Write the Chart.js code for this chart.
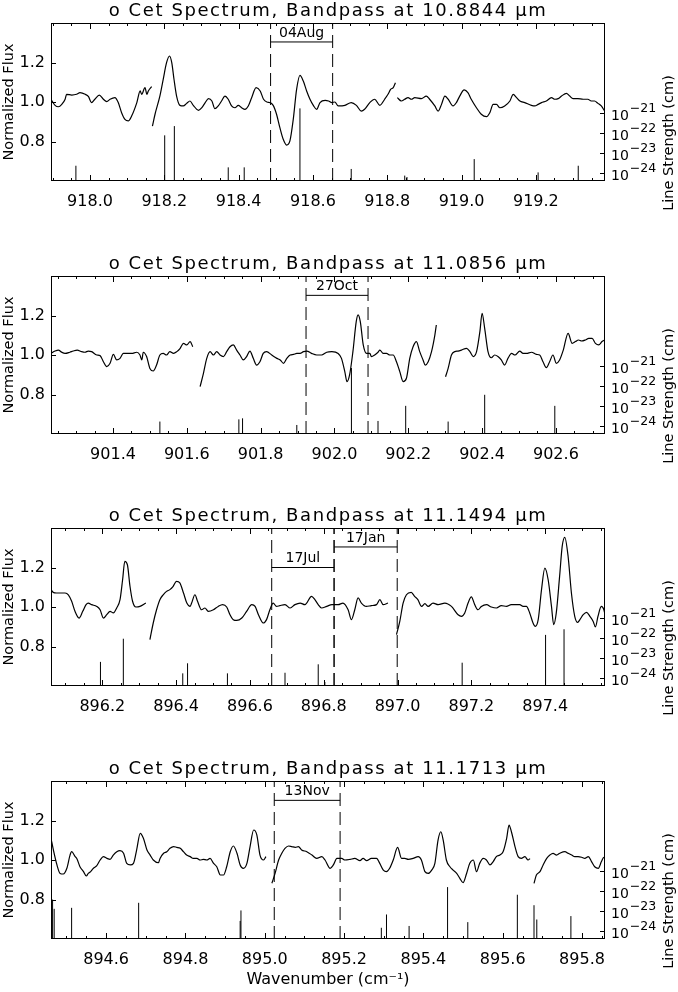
<!DOCTYPE html>
<html lang="en">
<head>
<meta charset="UTF-8">
<title>o Cet spectra</title>
<script src="https://cdn.jsdelivr.net/npm/chart.js"></script>
<style>
  body { margin: 0; background: #fff; }
  .panel { position: absolute; left: 0; }
</style>
</head>
<body>
<canvas id="c0" class="panel" style="top:0px" width="678" height="252"></canvas>
<canvas id="c1" class="panel" style="top:253px" width="678" height="252"></canvas>
<canvas id="c2" class="panel" style="top:505px" width="678" height="252"></canvas>
<canvas id="c3" class="panel" style="top:758px" width="678" height="234"></canvas>
<script>
// ---- data ----
const titles = [
  'o Cet Spectrum, Bandpass at 10.8844 \u03bcm',
  'o Cet Spectrum, Bandpass at 11.0856 \u03bcm',
  'o Cet Spectrum, Bandpass at 11.1494 \u03bcm',
  'o Cet Spectrum, Bandpass at 11.1713 \u03bcm'
];

// panel 1 (10.8844 um)
const p1Range = [917.895, 919.386];
const p1Ticks = [918.0, 918.2, 918.4, 918.6, 918.8, 919.0, 919.2];
const p1Wave = [917.895,917.906,917.915,917.924,917.933,917.937,917.951,917.964,917.973,917.987,917.996,918.004,918.013,918.025,918.036,918.045,918.054,918.067,918.076,918.085,918.094,918.103,918.112,918.126,918.135,918.139,918.148,918.153,918.157,918.166,
  918.167,
  918.168,918.175,918.188,918.197,918.206,918.214,918.220,918.226,918.233,918.242,918.251,918.260,918.269,918.278,918.292,918.301,918.310,918.319,918.328,918.336,918.345,918.354,918.363,918.372,918.381,918.390,918.399,918.408,918.417,918.426,918.435,918.447,918.458,918.467,918.476,918.485,918.493,918.502,918.511,918.520,918.529,918.538,918.547,918.556,918.565,918.574,918.583,918.592,918.601,918.610,918.619,918.633,918.642,918.651,918.659,918.668,918.686,918.703,918.717,918.730,918.739,918.753,918.766,918.780,918.793,918.802,918.809,918.816,918.822,
  918.825,
  918.827,918.838,918.847,918.856,918.865,918.874,918.892,918.905,918.914,918.928,918.937,918.946,918.955,918.964,918.977,918.986,918.995,919.007,919.017,919.026,919.040,919.053,919.067,919.076,919.085,919.094,919.103,919.116,919.130,919.139,919.148,919.157,919.170,919.188,919.197,919.206,919.215,919.228,919.242,919.251,919.260,919.269,919.282,919.291,919.300,919.313,919.327,919.340,919.349,919.358,919.367,919.376,919.385];
const p1Flux = [1.014,0.983,0.976,0.988,1.014,1.039,1.035,1.039,1.047,1.039,1.027,0.997,1.014,1.035,1.014,1.002,1.014,1.022,0.997,0.946,0.912,0.904,0.929,0.997,1.056,1.039,1.073,1.039,1.056,1.078,
  null,
  0.878,0.938,1.030,1.115,1.199,1.233,1.199,1.115,1.030,0.983,0.980,0.993,1.005,0.983,0.958,0.971,0.997,1.017,1.005,0.966,0.980,1.005,1.030,1.014,0.980,0.971,0.983,0.971,0.963,0.980,1.022,1.073,1.056,1.014,1.000,0.997,0.983,0.938,0.870,0.811,0.782,0.803,0.912,1.064,1.135,1.106,1.056,1.014,0.983,0.963,0.997,1.008,1.005,0.997,1.000,0.980,0.983,0.997,0.983,0.954,0.963,0.997,1.014,0.983,1.014,1.039,1.064,1.073,1.098,
  null,
  1.022,1.005,1.014,1.022,1.014,1.022,1.017,1.030,1.014,0.980,0.954,0.988,1.030,1.014,0.980,0.997,1.030,1.061,1.047,1.014,0.971,0.938,0.926,0.946,0.988,0.988,0.971,0.980,1.005,1.039,1.022,1.005,0.997,0.983,0.980,0.988,0.997,1.005,1.022,1.014,1.017,1.030,1.044,1.030,1.017,1.017,1.014,1.014,1.005,1.005,0.993,0.980,0.954];
const p1LineWave = [917.962,918.201,918.227,918.372,918.415,918.565,918.703,918.847,918.853,919.034,919.206,919.314];
const p1LineLog = [-23.64,-22.13,-21.67,-23.72,-23.72,-20.79,-23.80,-24.13,-24.20,-23.31,-23.97,-23.64];
const p1Dates = ['04Aug'];
const p1Windows = [[918.486, 918.653]];

// panel 2 (11.0856 um)
const p2Range = [901.232, 902.733];
const p2Ticks = [901.4, 901.6, 901.8, 902.0, 902.2, 902.4, 902.6];
const p2Wave = [901.232,901.243,901.252,901.261,901.270,901.283,901.292,901.303,901.315,901.324,901.333,901.342,901.356,901.365,901.374,901.383,901.392,901.401,901.410,901.419,901.428,901.437,901.451,901.464,901.473,901.478,901.482,901.491,901.500,901.509,901.518,901.527,901.536,901.545,901.554,901.564,901.573,901.582,901.591,901.600,901.609,901.616,
  901.626,
  901.636,901.645,901.654,901.663,901.672,901.681,901.690,901.699,901.708,901.717,901.726,901.735,901.744,901.753,901.762,901.771,901.780,901.789,901.798,901.807,901.816,901.830,901.844,901.853,901.862,901.871,901.880,901.889,901.898,901.907,901.916,901.925,901.938,901.952,901.965,901.979,901.993,
  902.010,902.019,902.028,902.034,902.041,902.050,902.059,902.064,902.070,902.078,902.087,902.096,902.100,902.109,902.118,902.123,902.132,902.141,902.150,902.159,902.168,902.177,902.186,902.195,902.204,902.213,902.222,902.231,902.240,902.246,902.254,902.263,902.272,902.276,
  902.290,
  902.301,902.308,902.317,902.326,902.335,902.344,902.358,902.367,902.376,902.385,902.394,902.400,902.407,902.416,902.425,902.434,902.443,902.452,902.461,902.470,902.480,902.489,902.502,902.511,902.520,902.534,902.547,902.556,902.565,902.574,902.583,902.592,902.601,902.610,902.620,902.633,902.644,902.653,902.661,902.670,902.680,902.689,902.698,902.707,902.716,902.725,902.732];
const p2Flux = [1.008,1.020,1.025,1.014,1.008,1.014,1.020,1.025,1.017,1.014,1.020,1.017,1.000,0.997,0.966,0.941,0.958,1.003,0.975,0.983,1.008,1.008,1.008,1.014,1.000,0.975,1.014,0.992,0.932,0.919,0.949,1.000,1.008,1.000,1.017,1.008,1.017,1.034,1.059,1.051,1.068,1.042,
  null,
  0.840,0.907,0.983,1.017,1.000,1.017,1.000,0.992,1.017,1.042,1.051,1.025,1.000,0.975,0.992,1.020,0.983,0.949,0.966,1.008,1.017,1.000,0.983,0.975,0.958,0.983,1.000,1.003,1.008,1.008,1.017,1.020,1.008,1.000,1.000,1.014,1.017,
  1.008,0.983,0.916,0.865,0.899,1.017,1.169,1.203,1.169,1.051,1.008,1.008,0.992,1.000,1.014,1.025,1.008,1.008,1.000,1.000,0.966,0.916,0.865,0.882,0.983,1.042,1.068,1.017,0.975,0.949,0.966,1.017,1.101,1.152,
  null,
  0.890,0.932,1.000,1.017,1.020,1.025,1.034,1.017,0.992,1.017,1.118,1.211,1.135,1.017,0.986,1.000,0.992,0.975,0.949,0.983,1.008,1.000,1.020,1.008,1.008,1.014,1.003,1.000,0.966,0.936,0.966,1.000,0.958,0.975,1.025,1.110,1.059,1.068,1.076,1.071,1.076,1.084,1.084,1.059,1.051,1.068,1.076];
const p2LineWave = [901.527,901.741,901.751,901.898,902.046,902.118,902.193,902.308,902.407,902.597];
const p2LineLog = [-23.78,-23.67,-23.62,-23.95,-21.12,-23.75,-23.00,-23.78,-22.45,-23.00];
const p2Dates = ['27Oct'];
const p2Windows = [[901.923, 902.091]];

// panel 3 (11.1494 um)
const p3Range = [896.061, 897.562];
const p3Ticks = [896.2, 896.4, 896.6, 896.8, 897.0, 897.2, 897.4];
const p3Wave = [896.061,896.067,896.076,896.085,896.099,896.108,896.117,896.126,896.137,896.147,896.156,896.162,896.171,896.185,896.194,896.203,896.212,896.221,896.230,896.239,896.248,896.255,896.261,896.268,896.275,896.282,896.291,896.302,896.318,
  896.323,
  896.329,896.338,896.347,896.356,896.365,896.374,896.383,896.392,896.401,896.410,896.420,896.429,896.438,896.442,896.451,896.458,896.469,896.478,896.487,896.501,896.514,896.526,896.537,896.546,896.555,896.564,896.578,896.591,896.605,896.614,896.623,896.636,896.645,896.654,896.663,896.672,896.681,896.695,896.709,896.722,896.736,896.749,896.767,896.776,896.785,896.794,896.808,896.822,896.839,896.852,896.866,896.875,896.884,896.893,896.902,896.915,896.929,896.943,896.952,896.961,896.974,
  896.985,
  896.997,897.006,897.015,897.024,897.037,897.046,897.055,897.065,897.074,897.083,897.096,897.110,897.128,897.146,897.164,897.173,897.182,897.191,897.200,897.209,897.218,897.227,897.241,897.254,897.268,897.281,897.295,897.308,897.322,897.331,897.340,897.349,897.358,897.367,897.373,897.381,897.390,897.399,897.408,897.417,897.423,897.430,897.439,897.446,897.453,897.462,897.471,897.480,897.488,897.494,897.503,897.512,897.521,897.530,897.536,897.543,897.552,897.559,897.564];
const p3Flux = [1.088,1.074,1.071,1.071,1.071,1.062,1.029,0.978,0.944,0.978,1.012,1.020,1.012,1.003,0.986,0.944,0.961,0.978,0.970,0.995,1.037,1.138,1.231,1.214,1.105,1.029,1.000,1.003,1.020,
  null,
  0.835,0.919,0.986,1.037,1.062,1.079,1.088,1.105,1.130,1.122,1.071,1.020,1.003,1.020,1.062,1.029,0.986,0.995,0.978,0.986,1.003,1.012,1.000,0.961,0.936,0.932,0.944,0.978,1.012,1.003,0.961,0.919,0.936,0.986,1.020,1.003,1.007,1.012,0.995,1.012,1.020,1.012,1.054,1.037,1.012,0.995,1.003,1.012,1.012,1.020,0.986,0.936,0.986,1.046,1.020,1.003,1.007,1.012,1.037,1.012,1.020,
  null,
  0.860,0.927,1.020,1.062,1.074,1.054,1.037,1.003,1.017,1.003,1.020,1.012,1.020,1.003,0.961,0.953,0.970,1.020,1.051,1.012,0.986,1.003,1.012,1.000,0.995,1.007,1.003,1.012,1.012,1.012,1.003,1.003,0.970,0.919,0.902,0.936,1.088,1.197,1.138,1.003,0.911,0.970,1.155,1.307,1.353,1.257,1.071,0.953,0.922,0.936,0.961,0.973,0.953,0.927,0.899,0.953,1.003,0.986,0.944];
const p3LineWave = [896.195,896.257,896.418,896.431,896.539,896.695,896.785,896.803,897.175,897.401,897.451];
const p3LineLog = [-23.20,-22.05,-23.77,-23.27,-23.77,-23.74,-23.32,-24.20,-23.24,-21.86,-21.58];
const p3Dates = ['17Jul', '17Jan'];
const p3Windows = [[896.659, 896.828], [896.828, 896.999]];

// panel 4 (11.1713 um)
const p4Range = [894.461, 895.858];
const p4Ticks = [894.6, 894.8, 895.0, 895.2, 895.4, 895.6, 895.8];
const p4Wave = [894.461,894.467,894.476,894.484,894.492,894.501,894.509,894.513,894.522,894.526,894.534,894.543,894.550,894.555,894.561,894.568,894.576,894.585,894.593,894.602,894.610,894.618,894.627,894.635,894.644,894.652,894.661,894.669,894.677,894.686,894.694,894.703,894.711,894.719,894.732,894.736,894.745,894.753,894.761,894.770,894.778,894.787,894.795,894.803,894.812,894.820,894.829,894.837,894.845,894.854,894.862,894.871,894.879,894.888,894.896,894.904,894.913,894.921,894.930,894.938,894.946,894.955,894.963,894.972,894.980,894.988,894.997,895.003,
  895.010,
  895.018,895.026,895.035,895.043,895.051,895.060,895.068,895.077,895.085,895.093,895.106,895.119,895.131,895.144,895.152,895.165,895.173,895.182,895.194,895.202,895.215,895.227,895.240,895.248,895.257,895.269,895.282,895.290,895.299,895.307,895.315,895.324,895.335,895.345,895.353,895.362,895.374,895.387,895.395,895.404,895.412,895.421,895.429,895.437,895.444,895.450,895.458,895.467,895.475,895.484,895.492,895.500,895.509,895.517,895.526,895.534,895.542,895.551,895.559,895.568,895.576,895.584,895.593,895.601,895.610,895.616,895.622,895.631,895.639,895.647,895.656,895.664,895.669,
  895.674,
  895.679,895.685,895.694,895.702,895.711,895.719,895.727,895.736,895.744,895.757,895.765,895.774,895.782,895.790,895.799,895.807,895.816,895.824,895.832,895.841,895.849,895.855,895.860];
const p4Flux = [1.110,1.051,0.975,0.932,0.929,0.958,1.025,1.042,1.017,1.008,0.966,0.941,0.919,0.932,0.941,0.958,0.970,1.000,1.017,1.008,1.003,1.025,1.042,1.047,1.034,0.983,0.975,0.983,1.051,1.135,1.110,1.051,1.025,1.000,0.986,1.008,1.034,1.042,1.059,1.068,1.064,1.059,1.042,1.025,1.017,1.008,1.008,1.000,1.003,1.000,1.008,0.983,0.966,0.924,0.924,0.966,1.042,1.071,1.034,0.975,0.958,0.983,1.068,1.152,1.127,1.025,1.000,1.017,
  null,
  0.882,0.932,1.000,1.034,1.059,1.071,1.068,1.064,1.068,1.051,1.042,1.025,1.008,1.017,1.000,0.958,0.975,1.008,1.008,1.000,1.003,1.008,0.997,1.008,0.997,1.008,1.008,0.983,0.949,0.941,0.958,1.000,1.064,1.008,1.008,1.003,1.008,1.017,1.000,0.941,0.932,0.949,0.983,1.101,1.143,1.101,1.000,0.966,0.949,0.932,0.907,0.885,0.932,0.983,1.000,0.941,0.983,1.008,1.000,0.975,0.992,1.017,1.025,1.042,1.110,1.177,1.143,1.068,1.017,1.008,1.017,1.000,1.007,
  null,
  0.882,0.924,0.941,0.975,1.008,1.025,1.034,1.025,1.034,1.042,1.034,1.025,1.017,1.017,1.014,1.008,1.017,0.992,0.966,0.958,0.992,1.014,0.975];
const p4LineWave = [894.465,894.469,894.513,894.682,894.938,894.940,895.294,895.307,895.364,895.461,895.512,895.637,895.679,895.686,895.772];
const p4LineLog = [-22.44,-22.90,-22.85,-22.60,-23.50,-22.98,-23.84,-23.18,-23.75,-21.82,-23.56,-22.20,-22.72,-23.43,-23.26];
const p4Dates = ['13Nov'];
const p4Windows = [[895.024, 895.190]];

const fluxTicks = [0.8, 1.0, 1.2];
const strengthExp = [-24, -23, -22, -21];

// ---- layout / style ----
const FONT = "'DejaVu Sans', sans-serif";
const FLUX_RANGE = [0.6, 1.4];
const S_RANGE = [-24.35, -16.55];
const AREA = { left: 51, right: 605, top: 23, bottom: 181 };

const panels = [
  { id: 'c0', h: 252, title: titles[0], range: p1Range, ticks: p1Ticks, wave: p1Wave, flux: p1Flux, lw: p1LineWave, ll: p1LineLog, dates: p1Dates, win: p1Windows, lev: [1.304] },
  { id: 'c1', h: 252, title: titles[1], range: p2Range, ticks: p2Ticks, wave: p2Wave, flux: p2Flux, lw: p2LineWave, ll: p2LineLog, dates: p2Dates, win: p2Windows, lev: [1.302] },
  { id: 'c2', h: 252, title: titles[2], range: p3Range, ticks: p3Ticks, wave: p3Wave, flux: p3Flux, lw: p3LineWave, ll: p3LineLog, dates: p3Dates, win: p3Windows, lev: [1.2, 1.304] },
  { id: 'c3', h: 234, title: titles[3], range: p4Range, ticks: p4Ticks, wave: p4Wave, flux: p4Flux, lw: p4LineWave, ll: p4LineLog, dates: p4Dates, win: p4Windows, lev: [1.302], xlabel: true }
];

// frame, inward ticks and the loose text
const decor = {
  id: 'decor',
  afterDraw(chart) {
    const p = chart.options.plugins.decor.panel;
    const { ctx, chartArea: a, scales } = chart;
    const x = scales.x, y = scales.y, y2 = scales.y2;
    ctx.save();
    ctx.strokeStyle = '#000';
    ctx.fillStyle = '#000';
    ctx.lineWidth = 1;
    ctx.strokeRect(a.left + 0.5, a.top + 0.5, a.right - a.left - 1, a.bottom - a.top - 1);

    ctx.beginPath();
    const k0 = Math.ceil(x.min * 20 - 1e-6), k1 = Math.floor(x.max * 20 + 1e-6);
    for (let k = k0; k <= k1; k++) {
      const px = Math.round(x.getPixelForValue(k / 20)) + 0.5;
      const len = (k % 4 === 0) ? 6 : 3;
      ctx.moveTo(px, a.bottom); ctx.lineTo(px, a.bottom - len);
      ctx.moveTo(px, a.top); ctx.lineTo(px, a.top + len);
    }
    fluxTicks.forEach(v => {
      const py = Math.round(y.getPixelForValue(v)) + 0.5;
      ctx.moveTo(a.left, py); ctx.lineTo(a.left + 5, py);
    });
    strengthExp.forEach(e => {
      const py = Math.round(y2.getPixelForValue(Math.pow(10, e))) + 0.5;
      ctx.moveTo(a.right, py); ctx.lineTo(a.right - 5, py);
    });
    ctx.stroke();

    // right-axis labels: 10 with a raised exponent
    ctx.textAlign = 'left';
    ctx.textBaseline = 'alphabetic';
    strengthExp.forEach(e => {
      const py = y2.getPixelForValue(Math.pow(10, e));
      ctx.font = '14px ' + FONT;
      ctx.fillText('10', a.right + 6, py + 7.5);
      const w = ctx.measureText('10').width;
      ctx.font = '12.5px ' + FONT;
      ctx.fillText('\u2212' + String(-e), a.right + 7 + w, py - 0.5);
    });

    // observing-date labels over the brackets
    ctx.font = '14px ' + FONT;
    ctx.textAlign = 'center';
    ctx.textBaseline = 'bottom';
    p.win.forEach((w, i) => {
      const cx = (x.getPixelForValue(w[0]) + x.getPixelForValue(w[1])) / 2;
      ctx.fillText(p.dates[i], cx, y.getPixelForValue(p.lev[i]) - 2);
    });

    // title
    ctx.font = '18px ' + FONT;
    ctx.letterSpacing = '1.6px';
    ctx.textBaseline = 'alphabetic';
    ctx.fillText(p.title, (a.left + a.right) / 2, 16);
    ctx.letterSpacing = '0px';

    // axis titles
    ctx.font = '14.5px ' + FONT;
    ctx.textBaseline = 'middle';
    ctx.save();
    ctx.translate(9, (a.top + a.bottom) / 2);
    ctx.rotate(-Math.PI / 2);
    ctx.fillText('Normalized Flux', 0, 0);
    ctx.restore();
    ctx.save();
    ctx.translate(669, a.top + 120);
    ctx.rotate(-Math.PI / 2);
    ctx.fillText('Line Strength (cm)', 0, 0);
    ctx.restore();
    if (p.xlabel) {
      ctx.font = '16px ' + FONT;
      ctx.fillText('Wavenumber (cm\u207b\u00b9)', (a.left + a.right) / 2, 222);
    }
    ctx.restore();
  }
};

panels.forEach(p => {
  const sMin = Math.pow(10, S_RANGE[0]);
  const spectrum = p.wave.map((w, i) => ({ x: w, y: p.flux[i] }));
  const sticks = [];
  p.lw.forEach((w, i) => {
    sticks.push({ x: w, y: sMin }, { x: w, y: Math.pow(10, p.ll[i]) }, { x: w, y: null });
  });
  const dashes = [];
  const bars = [];
  p.win.forEach((w, i) => {
    dashes.push({ x: w[0], y: FLUX_RANGE[0] }, { x: w[0], y: FLUX_RANGE[1] }, { x: w[0], y: null });
    dashes.push({ x: w[1], y: FLUX_RANGE[0] }, { x: w[1], y: FLUX_RANGE[1] }, { x: w[1], y: null });
    bars.push({ x: w[0], y: p.lev[i] }, { x: w[1], y: p.lev[i] }, { x: w[1], y: null });
  });

  const common = { borderColor: '#000', pointRadius: 0, spanGaps: false, fill: false };
  new Chart(document.getElementById(p.id), {
    type: 'line',
    data: {
      datasets: [
        Object.assign({ data: spectrum, borderWidth: 1.2, yAxisID: 'y', cubicInterpolationMode: 'monotone' }, common),
        Object.assign({ data: sticks, borderWidth: 1, yAxisID: 'y2' }, common),
        Object.assign({ data: dashes, borderWidth: 1, borderDash: [13, 6], yAxisID: 'y' }, common),
        Object.assign({ data: bars, borderWidth: 1, yAxisID: 'y' }, common)
      ]
    },
    options: {
      responsive: false,
      animation: false,
      events: [],
      layout: { autoPadding: false, padding: { top: AREA.top, left: 0, right: 0, bottom: 0 } },
      plugins: { legend: { display: false }, tooltip: { enabled: false }, decor: { panel: p } },
      scales: {
        x: {
          type: 'linear', position: 'bottom', min: p.range[0], max: p.range[1],
          afterBuildTicks: s => { s.ticks = p.ticks.map(v => ({ value: v })); },
          afterFit: s => { s.height = p.h - AREA.bottom; },
          ticks: { callback: v => v.toFixed(1), color: '#000', font: { family: FONT, size: 16 }, padding: 11, maxRotation: 0, autoSkip: false },
          grid: { display: false, drawTicks: false }, border: { display: false }
        },
        y: {
          type: 'linear', position: 'left', min: FLUX_RANGE[0], max: FLUX_RANGE[1],
          afterBuildTicks: s => { s.ticks = fluxTicks.map(v => ({ value: v })); },
          afterFit: s => { s.width = AREA.left; },
          ticks: { callback: v => v.toFixed(1), color: '#000', font: { family: FONT, size: 16 }, padding: 6, autoSkip: false },
          grid: { display: false, drawTicks: false }, border: { display: false }
        },
        y2: {
          type: 'logarithmic', position: 'right', min: sMin, max: Math.pow(10, S_RANGE[1]),
          afterBuildTicks: s => { s.ticks = strengthExp.map(e => ({ value: Math.pow(10, e) })); },
          afterFit: s => { s.width = 678 - AREA.right; },
          ticks: { display: false },
          grid: { display: false, drawTicks: false }, border: { display: false }
        }
      }
    },
    plugins: [decor]
  });
});
</script>
</body>
</html>
